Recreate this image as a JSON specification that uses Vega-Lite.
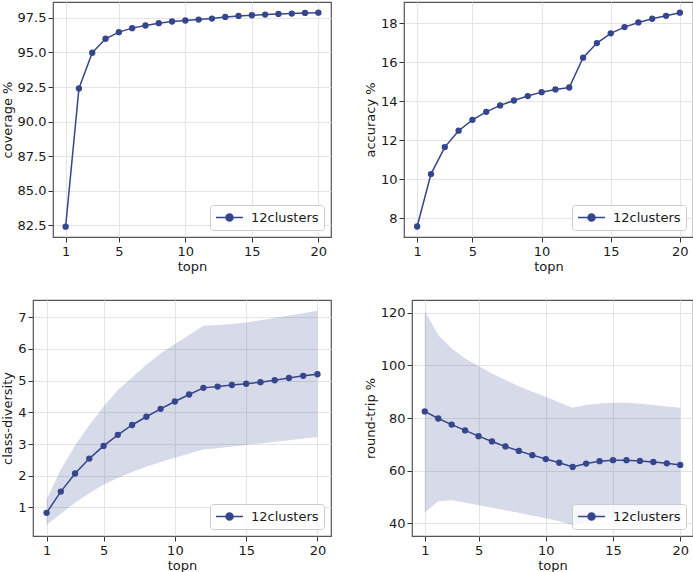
{
  "$schema": "https://vega.github.io/schema/vega-lite/v6.json",
  "padding": {"left": 0, "top": 1, "right": 0, "bottom": 0},
  "autosize": {"type": "pad"},
  "datasets": {
    "coverage": [
      {"topn": 1, "value": 82.4, "series": "12clusters"},
      {"topn": 2, "value": 92.39, "series": "12clusters"},
      {"topn": 3, "value": 94.98, "series": "12clusters"},
      {"topn": 4, "value": 95.99, "series": "12clusters"},
      {"topn": 5, "value": 96.47, "series": "12clusters"},
      {"topn": 6, "value": 96.76, "series": "12clusters"},
      {"topn": 7, "value": 96.95, "series": "12clusters"},
      {"topn": 8, "value": 97.12, "series": "12clusters"},
      {"topn": 9, "value": 97.24, "series": "12clusters"},
      {"topn": 10, "value": 97.31, "series": "12clusters"},
      {"topn": 11, "value": 97.38, "series": "12clusters"},
      {"topn": 12, "value": 97.45, "series": "12clusters"},
      {"topn": 13, "value": 97.57, "series": "12clusters"},
      {"topn": 14, "value": 97.64, "series": "12clusters"},
      {"topn": 15, "value": 97.69, "series": "12clusters"},
      {"topn": 16, "value": 97.74, "series": "12clusters"},
      {"topn": 17, "value": 97.79, "series": "12clusters"},
      {"topn": 18, "value": 97.81, "series": "12clusters"},
      {"topn": 19, "value": 97.86, "series": "12clusters"},
      {"topn": 20, "value": 97.88, "series": "12clusters"}
    ],
    "accuracy": [
      {"topn": 1, "value": 7.57, "series": "12clusters"},
      {"topn": 2, "value": 10.26, "series": "12clusters"},
      {"topn": 3, "value": 11.65, "series": "12clusters"},
      {"topn": 4, "value": 12.49, "series": "12clusters"},
      {"topn": 5, "value": 13.05, "series": "12clusters"},
      {"topn": 6, "value": 13.46, "series": "12clusters"},
      {"topn": 7, "value": 13.79, "series": "12clusters"},
      {"topn": 8, "value": 14.04, "series": "12clusters"},
      {"topn": 9, "value": 14.27, "series": "12clusters"},
      {"topn": 10, "value": 14.47, "series": "12clusters"},
      {"topn": 11, "value": 14.61, "series": "12clusters"},
      {"topn": 12, "value": 14.71, "series": "12clusters"},
      {"topn": 13, "value": 16.24, "series": "12clusters"},
      {"topn": 14, "value": 16.99, "series": "12clusters"},
      {"topn": 15, "value": 17.49, "series": "12clusters"},
      {"topn": 16, "value": 17.81, "series": "12clusters"},
      {"topn": 17, "value": 18.05, "series": "12clusters"},
      {"topn": 18, "value": 18.24, "series": "12clusters"},
      {"topn": 19, "value": 18.39, "series": "12clusters"},
      {"topn": 20, "value": 18.55, "series": "12clusters"}
    ],
    "diversity": [
      {"topn": 1, "value": 0.83, "lo": 0.45, "hi": 1.24, "series": "12clusters"},
      {"topn": 2, "value": 1.5, "lo": 0.8, "hi": 2.2, "series": "12clusters"},
      {"topn": 3, "value": 2.07, "lo": 1.15, "hi": 2.95, "series": "12clusters"},
      {"topn": 4, "value": 2.54, "lo": 1.45, "hi": 3.6, "series": "12clusters"},
      {"topn": 5, "value": 2.94, "lo": 1.72, "hi": 4.18, "series": "12clusters"},
      {"topn": 6, "value": 3.29, "lo": 1.93, "hi": 4.7, "series": "12clusters"},
      {"topn": 7, "value": 3.6, "lo": 2.12, "hi": 5.1, "series": "12clusters"},
      {"topn": 8, "value": 3.86, "lo": 2.28, "hi": 5.5, "series": "12clusters"},
      {"topn": 9, "value": 4.11, "lo": 2.43, "hi": 5.85, "series": "12clusters"},
      {"topn": 10, "value": 4.34, "lo": 2.57, "hi": 6.15, "series": "12clusters"},
      {"topn": 11, "value": 4.56, "lo": 2.7, "hi": 6.44, "series": "12clusters"},
      {"topn": 12, "value": 4.77, "lo": 2.83, "hi": 6.73, "series": "12clusters"},
      {"topn": 13, "value": 4.81, "lo": 2.87, "hi": 6.75, "series": "12clusters"},
      {"topn": 14, "value": 4.86, "lo": 2.92, "hi": 6.78, "series": "12clusters"},
      {"topn": 15, "value": 4.9, "lo": 2.97, "hi": 6.83, "series": "12clusters"},
      {"topn": 16, "value": 4.95, "lo": 3.02, "hi": 6.9, "series": "12clusters"},
      {"topn": 17, "value": 5.01, "lo": 3.07, "hi": 6.97, "series": "12clusters"},
      {"topn": 18, "value": 5.08, "lo": 3.12, "hi": 7.05, "series": "12clusters"},
      {"topn": 19, "value": 5.15, "lo": 3.17, "hi": 7.12, "series": "12clusters"},
      {"topn": 20, "value": 5.2, "lo": 3.22, "hi": 7.2, "series": "12clusters"}
    ],
    "roundtrip": [
      {"topn": 1, "value": 82.5, "lo": 44.1, "hi": 120.6, "series": "12clusters"},
      {"topn": 2, "value": 79.8, "lo": 48.4, "hi": 111.5, "series": "12clusters"},
      {"topn": 3, "value": 77.5, "lo": 48.8, "hi": 106.4, "series": "12clusters"},
      {"topn": 4, "value": 75.3, "lo": 47.9, "hi": 102.6, "series": "12clusters"},
      {"topn": 5, "value": 73.1, "lo": 46.9, "hi": 99.7, "series": "12clusters"},
      {"topn": 6, "value": 71.1, "lo": 45.9, "hi": 96.9, "series": "12clusters"},
      {"topn": 7, "value": 69.2, "lo": 45.0, "hi": 94.4, "series": "12clusters"},
      {"topn": 8, "value": 67.5, "lo": 44.0, "hi": 92.1, "series": "12clusters"},
      {"topn": 9, "value": 65.9, "lo": 43.0, "hi": 90.0, "series": "12clusters"},
      {"topn": 10, "value": 64.4, "lo": 41.9, "hi": 88.1, "series": "12clusters"},
      {"topn": 11, "value": 63.0, "lo": 40.8, "hi": 85.9, "series": "12clusters"},
      {"topn": 12, "value": 61.4, "lo": 39.4, "hi": 83.9, "series": "12clusters"},
      {"topn": 13, "value": 62.7, "lo": 40.5, "hi": 84.9, "series": "12clusters"},
      {"topn": 14, "value": 63.6, "lo": 41.7, "hi": 85.5, "series": "12clusters"},
      {"topn": 15, "value": 64.0, "lo": 42.2, "hi": 85.8, "series": "12clusters"},
      {"topn": 16, "value": 64.0, "lo": 42.2, "hi": 85.8, "series": "12clusters"},
      {"topn": 17, "value": 63.7, "lo": 42.0, "hi": 85.4, "series": "12clusters"},
      {"topn": 18, "value": 63.3, "lo": 41.7, "hi": 84.9, "series": "12clusters"},
      {"topn": 19, "value": 62.8, "lo": 41.2, "hi": 84.4, "series": "12clusters"},
      {"topn": 20, "value": 62.2, "lo": 40.5, "hi": 83.9, "series": "12clusters"}
    ],
    "spacer": []
  },
  "spacing": 25,
  "resolve": {"scale": {"color": "independent", "x": "independent", "y": "independent"}, "legend": {"color": "independent"}},
  "vconcat": [
    {
      "hconcat": [
        {
          "hconcat": [
            {
              "width": 20,
              "height": 235,
              "data": {"name": "spacer"},
              "mark": {"type": "point", "opacity": 0},
              "encoding": {},
              "view": {"stroke": null}
            },
            {
              "width": 278,
              "height": 235,
              "data": {"name": "coverage"},
              "mark": {"type": "line", "strokeWidth": 1.5, "point": {"filled": true, "size": 40, "opacity": 1}},
              "encoding": {
                "x": {"field": "topn", "type": "quantitative", "title": "topn", "scale": {"domain": [0.05, 20.95], "nice": false, "zero": false}, "axis": {"values": [1, 5, 10, 15, 20], "labelOverlap": false}},
                "y": {"field": "value", "type": "quantitative", "title": "coverage %", "scale": {"domain": [81.65, 98.65], "nice": false, "zero": false}, "axis": {"values": [82.5, 85, 87.5, 90, 92.5, 95, 97.5], "format": ".1f", "labelOverlap": false}},
                "color": {"field": "series", "type": "nominal", "scale": {"range": ["#36468c"]}, "legend": {"title": null, "orient": "bottom-right", "symbolType": "M-1,0H3.15M0.54,0A0.54,0.54,0,1,0,1.62,0A0.54,0.54,0,1,0,0.54,0", "symbolSize": 169, "symbolStrokeWidth": 1.5, "symbolFillColor": "#36468c", "symbolStrokeColor": "#36468c"}}
              }
            }
          ],
          "spacing": 0,
          "bounds": "flush",
          "resolve": {"scale": {"color": "independent", "x": "independent", "y": "independent"}, "legend": {"color": "independent"}}
        },
        {
          "width": 289,
          "height": 235,
          "data": {"name": "accuracy"},
          "mark": {"type": "line", "strokeWidth": 1.5, "point": {"filled": true, "size": 40, "opacity": 1}},
          "encoding": {
            "x": {"field": "topn", "type": "quantitative", "title": "topn", "scale": {"domain": [0.05, 20.95], "nice": false, "zero": false}, "axis": {"values": [1, 5, 10, 15, 20], "labelOverlap": false}},
            "y": {"field": "value", "type": "quantitative", "title": "accuracy %", "scale": {"domain": [7.03, 19.1], "nice": false, "zero": false}, "axis": {"values": [8, 10, 12, 14, 16, 18], "labelOverlap": false}},
            "color": {"field": "series", "type": "nominal", "scale": {"range": ["#36468c"]}, "legend": {"title": null, "orient": "bottom-right", "symbolType": "M-1,0H3.15M0.54,0A0.54,0.54,0,1,0,1.62,0A0.54,0.54,0,1,0,0.54,0", "symbolSize": 169, "symbolStrokeWidth": 1.5, "symbolFillColor": "#36468c", "symbolStrokeColor": "#36468c"}}
          }
        }
      ],
      "spacing": 31,
      "resolve": {"scale": {"color": "independent", "x": "independent", "y": "independent"}, "legend": {"color": "independent"}}
    },
    {
      "hconcat": [
        {
          "width": 298,
          "height": 236,
          "data": {"name": "diversity"},
          "encoding": {
            "x": {"field": "topn", "type": "quantitative", "title": "topn", "scale": {"domain": [0.05, 20.95], "nice": false, "zero": false}, "axis": {"values": [1, 5, 10, 15, 20], "labelOverlap": false}},
            "y": {"type": "quantitative", "title": "class-diversity", "scale": {"domain": [0.1, 7.54], "nice": false, "zero": false}, "axis": {"values": [1, 2, 3, 4, 5, 6, 7], "labelOverlap": false}}
          },
          "layer": [
            {
              "mark": {"type": "area", "color": "#36468c", "opacity": 0.2},
              "encoding": {
                "y": {"field": "lo", "type": "quantitative", "title": "class-diversity"},
                "y2": {"field": "hi"}
              }
            },
            {
              "mark": {"type": "line", "strokeWidth": 1.5, "point": {"filled": true, "size": 40, "opacity": 1}},
              "encoding": {
                "y": {"field": "value", "type": "quantitative", "title": "class-diversity"},
                "color": {"field": "series", "type": "nominal", "scale": {"range": ["#36468c"]}, "legend": {"title": null, "orient": "bottom-right", "symbolType": "M-1,0H3.15M0.54,0A0.54,0.54,0,1,0,1.62,0A0.54,0.54,0,1,0,0.54,0", "symbolSize": 169, "symbolStrokeWidth": 1.5, "symbolFillColor": "#36468c", "symbolStrokeColor": "#36468c"}}
              }
            }
          ]
        },
        {
          "width": 281,
          "height": 236,
          "data": {"name": "roundtrip"},
          "encoding": {
            "x": {"field": "topn", "type": "quantitative", "title": "topn", "scale": {"domain": [0.05, 20.95], "nice": false, "zero": false}, "axis": {"values": [1, 5, 10, 15, 20], "labelOverlap": false}},
            "y": {"type": "quantitative", "title": "round-trip %", "scale": {"domain": [35.2, 124.8], "nice": false, "zero": false}, "axis": {"values": [40, 60, 80, 100, 120], "labelOverlap": false}}
          },
          "layer": [
            {
              "mark": {"type": "area", "color": "#36468c", "opacity": 0.2},
              "encoding": {
                "y": {"field": "lo", "type": "quantitative", "title": "round-trip %"},
                "y2": {"field": "hi"}
              }
            },
            {
              "mark": {"type": "line", "strokeWidth": 1.5, "point": {"filled": true, "size": 40, "opacity": 1}},
              "encoding": {
                "y": {"field": "value", "type": "quantitative", "title": "round-trip %"},
                "color": {"field": "series", "type": "nominal", "scale": {"range": ["#36468c"]}, "legend": {"title": null, "orient": "bottom-right", "symbolType": "M-1,0H3.15M0.54,0A0.54,0.54,0,1,0,1.62,0A0.54,0.54,0,1,0,0.54,0", "symbolSize": 169, "symbolStrokeWidth": 1.5, "symbolFillColor": "#36468c", "symbolStrokeColor": "#36468c"}}
              }
            }
          ]
        }
      ],
      "spacing": 31,
      "resolve": {"scale": {"color": "independent", "x": "independent", "y": "independent"}, "legend": {"color": "independent"}}
    }
  ],
  "config": {
    "font": "DejaVu Sans",
    "background": "white",
    "view": {"stroke": "#555555", "strokeWidth": 1.2},
    "axis": {
      "domain": false,
      "grid": true,
      "gridColor": "#e4e4e8",
      "gridWidth": 1,
      "tickColor": "#333333",
      "tickSize": 5,
      "tickWidth": 1,
      "labelFont": "DejaVu Sans",
      "labelFontSize": 13,
      "labelColor": "#1a1a1a",
      "titleFont": "DejaVu Sans",
      "titleFontSize": 13,
      "titleFontWeight": "normal",
      "titleColor": "#1a1a1a",
      "labelFlush": false,
      "labelOverlap": false
    },
    "axisX": {"labelPadding": 3, "titlePadding": 2},
    "axisY": {"labelPadding": 2, "titlePadding": 3},
    "legend": {
      "offset": 7,
      "padding": 5,
      "strokeColor": "#cccccc",
      "fillColor": "rgba(255,255,255,0.8)",
      "cornerRadius": 3,
      "labelFont": "DejaVu Sans",
      "labelFontSize": 13,
      "labelColor": "#1a1a1a",
      "labelOffset": 21
    }
  }
}
